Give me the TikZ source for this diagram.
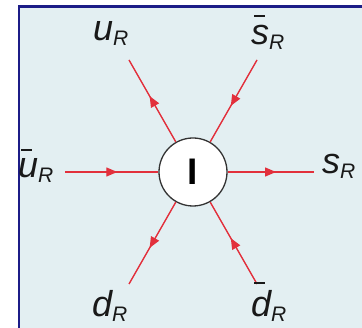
\documentclass[tikz,border=0pt]{standalone}
\usepackage{fontspec}
\setmainfont{Liberation Sans}
\usetikzlibrary{arrows.meta,decorations.markings}
\definecolor{bgc}{RGB}{227,239,242}
\definecolor{framec}{RGB}{28,28,135}
\definecolor{linec}{RGB}{226,48,60}
\definecolor{txtc}{RGB}{25,25,25}
\newcommand\qlbl[2]{{\fontsize{36}{40}\selectfont\itshape #1}\raisebox{-5pt}{\fontsize{21}{24}\selectfont\itshape #2}}
\newcommand\qbar[2]{\rlap{\hspace{3pt}\rule[#2]{11pt}{2.2pt}}#1}
\tikzset{
  lbl/.style={inner sep=0pt, anchor=base west, text=txtc},
  vertex/.style={circle, draw=black!80, fill=white, line width=1.3pt, minimum size=68pt, inner sep=0pt},
  prop/.style={draw=linec, fill=linec, line width=1.4pt,
    postaction={decorate},
    decoration={markings, mark=at position #1 with {\arrow{Triangle[length=11pt,width=9pt]}}}},
  prop/.default=0.56
}
\begin{document}
\begin{tikzpicture}[x=1pt,y=-1pt]
\useasboundingbox (0,0) rectangle (362,328);
\clip (0,0) rectangle (362,328);
\draw[fill=bgc, draw=framec, line width=2.5pt] (19,6.5) rectangle (390,360);
\node[vertex] (c) at (193,172) {\fontsize{37}{40}\selectfont\bfseries I};
\coordinate (eul) at (129,60);
\coordinate (eur) at (257,60);
\coordinate (el) at (65,172);
\coordinate (er) at (314,172);
\coordinate (edl) at (129,284);
\coordinate (edr) at (257,284);
\draw[prop] (c) -- (eul);
\draw[prop] (eur) -- (c);
\draw[prop] (el) -- (c);
\draw[prop] (c) -- (er);
\draw[prop] (c) -- (edl);
\draw[prop] (edr) -- (c);
\node[lbl] (lu) at (93,41) {\qlbl{u}{R}};
\node[lbl] (lsb) at (251,45) {\qlbl{\qbar{s}{28pt}}{R}};
\node[lbl] (lub) at (18,178) {\qlbl{\qbar{u}{27pt}}{R}};
\node[lbl] (ls) at (322,174) {\qlbl{s}{R}};
\node[lbl] (ld) at (92,317) {\qlbl{d}{R}};
\node[lbl] (ldb) at (251,317) {\qlbl{\qbar{d}{33pt}}{R}};
\end{tikzpicture}
\end{document}
